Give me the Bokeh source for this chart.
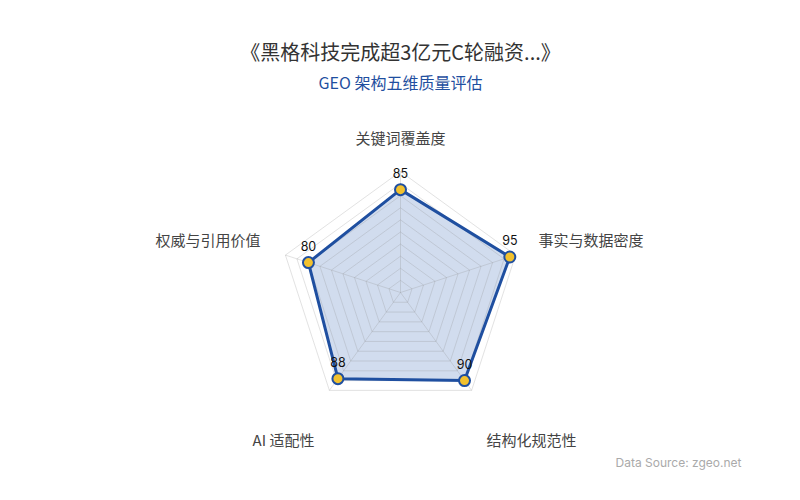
import numpy as np
from bokeh.plotting import figure
from bokeh.models import ColumnDataSource, Range1d
from bokeh.core.properties import value
from bokeh.embed import file_html
from bokeh.resources import INLINE

# ---- data ----
title_text = "《黑格科技完成超3亿元C轮融资...》"
subtitle_text = "GEO 架构五维质量评估"
source_text = "Data Source: zgeo.net"
indicators = ["关键词覆盖度", "事实与数据密度", "结构化规范性", "AI 适配性", "权威与引用价值"]
scores = [85, 95, 90, 88, 80]
max_score = 100
grid_levels = 10

# ---- geometry (data units = pixels) ----
W, H = 784, 484
def px(X, Y):
    return X, H - Y

cx, cy = px(400, 292)
R = 121.0
n = len(indicators)
angles = np.pi / 2 - np.arange(n) * 2 * np.pi / n

p = figure(width=W, height=H, output_backend="svg", toolbar_location=None,
           x_range=Range1d(0, W), y_range=Range1d(0, H), min_border=0)
p.axis.visible = False
p.grid.visible = False
p.outline_line_color = None
p.background_fill_color = "white"

font = value("Noto Sans CJK SC")

# data area
vals = np.array(scores) / max_score * R
xs = cx + vals * np.cos(angles)
ys = cy + vals * np.sin(angles)
p.patch(list(xs), list(ys), fill_color="#2f5fb3", fill_alpha=0.22, line_color=None)

# grid rings and spokes
for k in range(1, grid_levels + 1):
    r = R * k / grid_levels
    gx = list(cx + r * np.cos(angles)) + [cx + r * np.cos(angles[0])]
    gy = list(cy + r * np.sin(angles)) + [cy + r * np.sin(angles[0])]
    p.line(gx, gy, line_color="#8a8a8a", line_alpha=0.25, line_width=1)
for a in angles:
    p.line([cx, cx + R * np.cos(a)], [cy, cy + R * np.sin(a)],
           line_color="#8a8a8a", line_alpha=0.25, line_width=1)

# outline
p.line(list(xs) + [xs[0]], list(ys) + [ys[0]], line_color="#1f4fa0", line_width=3)
src = ColumnDataSource(dict(x=xs, y=ys, v=[str(s) for s in scores]))
p.scatter("x", "y", source=src, size=11, fill_color="#f2c12e",
          line_color="#1f4fa0", line_width=2)
p.text("x", "y", text="v", source=src, x_offset=0, y_offset=-12,
       text_align="center", text_baseline="bottom", text_font_size="12.5px",
       text_color="#111111", text_font=value("Inter"))

# indicator labels
lab_pos = [px(400, 137), px(538, 239), px(531, 439), px(283, 439), px(260, 239)]
aligns = ["center", "left", "center", "center", "right"]
for name, (lx, ly), al in zip(indicators, lab_pos, aligns):
    p.text([lx], [ly], text=[name], text_align=al, text_baseline="middle",
           text_font_size="15px", text_color="#444444", text_font=font)

# titles
tx, ty = px(400, 51)
p.text([tx], [ty], text=[title_text], text_align="center", text_baseline="middle",
       text_font_size="20px", text_color="#333333", text_font=font)
sx, sy = px(400, 81)
p.text([sx], [sy], text=[subtitle_text], text_align="center", text_baseline="middle",
       text_font_size="16px", text_color="#1f4fa0", text_font=font)
dx, dy = px(741, 462)
p.text([dx], [dy], text=[source_text], text_align="right", text_baseline="middle",
       text_font_size="12px", text_color="#aaaaaa", text_font=value("Inter"))

open("out.html", "w").write(file_html(p, INLINE))
